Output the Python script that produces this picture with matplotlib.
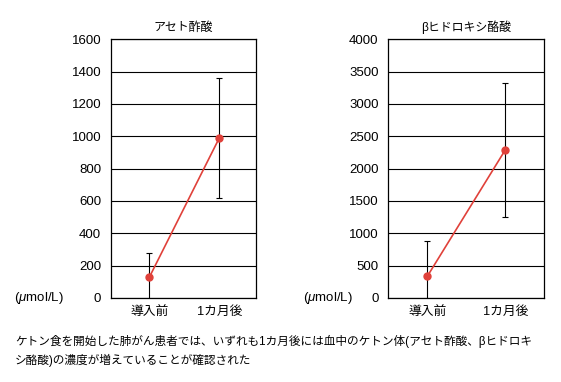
import matplotlib
matplotlib.use("Agg")
import matplotlib.pyplot as plt

plt.rcParams['font.family'] = ['Liberation Sans', 'Noto Sans CJK JP']
plt.rcParams['mathtext.fontset'] = 'custom'
plt.rcParams['mathtext.rm'] = 'Liberation Sans'
plt.rcParams['mathtext.it'] = 'Liberation Sans:italic'

categories = ['導入前', '1カ月後']
aceto_mean = [128, 990]
aceto_err = [152, 370]
hydroxy_mean = [335, 2290]
hydroxy_err = [540, 1030]
aceto_ticks = [0, 200, 400, 600, 800, 1000, 1200, 1400, 1600]
hydroxy_ticks = [0, 500, 1000, 1500, 2000, 2500, 3000, 3500, 4000]
titles = ['アセト酢酸', 'βヒドロキシ酪酸']
unit_label = r'($\mathit{\mu}$mol/L)'
caption_lines = ['ケトン食を開始した肺がん患者では、いずれも1カ月後には血中のケトン体(アセト酢酸、βヒドロキ',
                 'シ酪酸)の濃度が増えていることが確認された']

W, H = 561, 382
fig = plt.figure(figsize=(W / 100, H / 100), dpi=100)

red = '#e0413a'
fs_y = 9.5
fs_x = 9.2
fs_t = 8.6

panels = [
    (dict(l=111, r=256, t=39.3, b=298, xlim=(-0.547, 1.524), ulx=14), aceto_mean, aceto_err, aceto_ticks, titles[0]),
    (dict(l=388.3, r=544.3, t=39.3, b=298, xlim=(-0.5, 1.5), ulx=302.7), hydroxy_mean, hydroxy_err, hydroxy_ticks, titles[1]),
]

for geo, mean, err, ticks, title in panels:
    ax = fig.add_axes([geo['l'] / W, 1 - geo['b'] / H, (geo['r'] - geo['l']) / W, (geo['b'] - geo['t']) / H])
    x = list(range(len(categories)))
    ax.errorbar(x, mean, yerr=err, fmt='none', ecolor='black', elinewidth=0.8, capsize=2, capthick=0.8, zorder=3)
    ax.plot(x, mean, color=red, lw=1.2, marker='o', ms=5, zorder=4, clip_on=False)
    ax.set_xlim(*geo['xlim'])
    ax.set_ylim(ticks[0], ticks[-1])
    ax.set_yticks(ticks)
    ax.set_yticklabels([str(t) for t in ticks], fontsize=fs_y)
    ax.set_xticks(x)
    ax.set_xticklabels(categories, fontsize=fs_x)
    ax.tick_params(length=0, pad=7)
    ax.tick_params(axis='x', pad=6)
    ax.grid(axis='y', color='black', lw=0.8)
    ax.set_axisbelow(True)
    for s in ax.spines.values():
        s.set_color('black')
        s.set_linewidth(0.9)
    ax.set_title(title, fontsize=fs_t, pad=6)
    fig.text(geo['ulx'] / W, 1 - 298 / H, unit_label, fontsize=fs_y, ha='left', va='center')

for i, line in enumerate(caption_lines):
    fig.text(15 / W, 1 - (341.7 + 18.3 * i) / H, line, fontsize=8.4, ha='left', va='center')

fig.savefig('out.png', dpi=100)
